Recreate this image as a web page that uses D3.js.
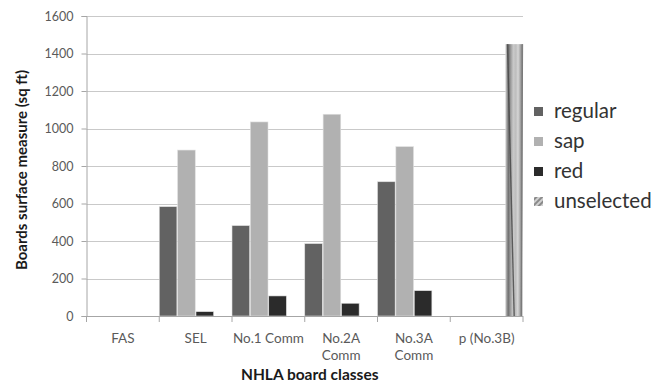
<!DOCTYPE html>
<html>
<head>
<meta charset="utf-8">
<script src="https://cdn.jsdelivr.net/npm/d3@7/dist/d3.min.js"></script>
<style>
  html, body { margin: 0; padding: 0; background: #fff; }
  svg { display: block; font-family: Lato, "Open Sans", sans-serif; }
</style>
</head>
<body>
<svg id="chart" width="655" height="383"></svg>
<script>
// Board classes along the x axis (label lines split on "|")
const categories = ["FAS", "SEL", "No.1 Comm", "No.2A|Comm", "No.3A|Comm", "p (No.3B)"];
const seriesNames = ["regular", "sap", "red", "unselected"];
const regular    = [0, 583, 482, 386, 716, 0];
const sap        = [0, 885, 1035, 1076, 903, 0];
const red        = [0, 23, 107, 68, 135, 0];
const unselected = [0, 0, 0, 0, 0, 1450];
const yTicks = [0, 200, 400, 600, 800, 1000, 1200, 1400, 1600];

const seriesValues = [regular, sap, red, unselected];
const colors = { regular: "#626262", sap: "#b1b1b1", red: "#2b2b2b", unselected: "url(#unselGrad)" };

const svg = d3.select("#chart");
const margin = { left: 86.5, right: 132, top: 16, bottom: 67 };
const W = 655, H = 383;

const x0 = d3.scaleBand().domain(categories).range([margin.left, W - margin.right]).padding(0);
const x1 = d3.scaleBand().domain(seriesNames).range([0, x0.bandwidth()]).paddingInner(0.04).paddingOuter(0);
const y = d3.scaleLinear().domain([0, 1600]).range([H - margin.bottom, margin.top]);

// defs: streaked fill for the "unselected" series and a hatched legend swatch
const defs = svg.append("defs");
const g = defs.append("linearGradient").attr("id", "unselGrad")
  .attr("x1", 0).attr("y1", 0).attr("x2", 1).attr("y2", 0.02);
[[0, "#d8d8d8"], [0.08, "#a9a9a9"], [0.18, "#6f6f6f"], [0.3, "#9a9a9a"], [0.45, "#c9c9c9"],
 [0.6, "#bdbdbd"], [0.72, "#d6d6d6"], [0.85, "#a8a8a8"], [0.95, "#7a7a7a"], [1, "#e6e6e6"]]
  .forEach(([o, c]) => g.append("stop").attr("offset", o).attr("stop-color", c));
const hatch = defs.append("pattern").attr("id", "hatch").attr("patternUnits", "userSpaceOnUse")
  .attr("width", 4).attr("height", 4).attr("patternTransform", "rotate(45)");
hatch.append("rect").attr("width", 4).attr("height", 4).attr("fill", "#d0d0d0");
hatch.append("rect").attr("width", 2).attr("height", 4).attr("fill", "#8a8a8a");

// gridlines
svg.append("g").selectAll("line").data(yTicks.slice(1)).join("line")
  .attr("x1", margin.left).attr("x2", W - margin.right)
  .attr("y1", d => Math.round(y(d)) + 0.5).attr("y2", d => Math.round(y(d)) + 0.5)
  .attr("stroke", "#c9c9c9").attr("stroke-width", 1);

// y axis
const yAxis = svg.append("g").attr("transform", `translate(${margin.left},0)`)
  .call(d3.axisLeft(y).tickValues(yTicks).tickSize(5).tickPadding(8).tickFormat(d3.format("d")));
yAxis.select(".domain").attr("stroke", "#a6a6a6");
yAxis.selectAll(".tick line").attr("stroke", "#a6a6a6");
yAxis.selectAll(".tick text").attr("fill", "#5a5a5a").style("font-size", "12.5px")
  .style("font-family", "Lato, 'Open Sans', sans-serif");

// bars
const groups = svg.append("g").selectAll("g").data(categories).join("g")
  .attr("transform", d => `translate(${x0(d)},0)`);
groups.selectAll("rect")
  .data((c, i) => seriesNames.map((s, k) => ({ s, v: seriesValues[k][i] })).filter(d => d.v > 0))
  .join("rect")
  .attr("x", d => x1(d.s)).attr("width", x1.bandwidth())
  .attr("y", d => y(d.v)).attr("height", d => y(0) - y(d.v))
  .attr("fill", d => colors[d.s])
  .attr("stroke", d => d.s === "unselected" ? "none" : "#e0e0e0").attr("stroke-width", 0.6);

// dark streak running down the unselected bar
unselected.forEach((v, i) => {
  if (v <= 0) return;
  const bx = x0(categories[i]) + x1("unselected");
  const bw = x1.bandwidth();
  svg.append("line")
    .attr("x1", bx + bw * 0.12).attr("y1", y(v))
    .attr("x2", bx + bw * 0.5).attr("y2", y(0))
    .attr("stroke", "#4a4a4a").attr("stroke-width", 1.4).attr("opacity", 0.85);
  svg.append("line")
    .attr("x1", bx + bw * 0.98).attr("y1", y(v))
    .attr("x2", bx + bw * 0.9).attr("y2", y(0))
    .attr("stroke", "#7a7a7a").attr("stroke-width", 1);
});

// x axis
const xAxis = svg.append("g").attr("transform", `translate(0,${y(0)})`);
xAxis.append("line").attr("x1", margin.left).attr("x2", W - margin.right)
  .attr("y1", 0.5).attr("y2", 0.5).attr("stroke", "#a6a6a6");
const bounds = categories.map(c => x0(c)).concat([x0(categories[categories.length - 1]) + x0.bandwidth()]);
xAxis.selectAll("line.tk").data(bounds).join("line").attr("class", "tk")
  .attr("x1", d => d).attr("x2", d => d).attr("y1", 0).attr("y2", 6).attr("stroke", "#a6a6a6");
xAxis.selectAll("text.cat").data(categories).join("text").attr("class", "cat")
  .attr("text-anchor", "middle").attr("fill", "#5a5a5a").style("font-size", "13.5px")
  .attr("transform", d => `translate(${x0(d) + x0.bandwidth() / 2},${27})`)
  .each(function (d) {
    d3.select(this).selectAll("tspan").data(d.split("|")).join("tspan")
      .attr("x", 0).attr("dy", (t, j) => j === 0 ? 0 : 17).text(t => t);
  });

// axis titles
svg.append("text").attr("x", (margin.left + W - margin.right) / 2 + 5).attr("y", 380)
  .attr("text-anchor", "middle").attr("fill", "#1a1a1a")
  .style("font-size", "15.5px").style("font-weight", "bold").text("NHLA board classes");
svg.append("text").attr("transform", `translate(27,170) rotate(-90)`)
  .attr("text-anchor", "middle").attr("fill", "#1a1a1a")
  .style("font-size", "15px").style("font-weight", "bold").text("Boards surface measure (sq ft)");

// legend
const legend = svg.append("g").attr("transform", "translate(534,0)");
const legendY = [111, 141, 171, 201];
seriesNames.forEach((s, i) => {
  legend.append("rect").attr("x", 0).attr("y", legendY[i] - 4).attr("width", 9).attr("height", 9)
    .attr("fill", s === "unselected" ? "url(#hatch)" : colors[s]);
  legend.append("text").attr("x", 20).attr("y", legendY[i]).attr("dy", "0.35em")
    .attr("fill", "#333").style("font-size", "20.5px").text(s);
});
</script>
</body>
</html>
